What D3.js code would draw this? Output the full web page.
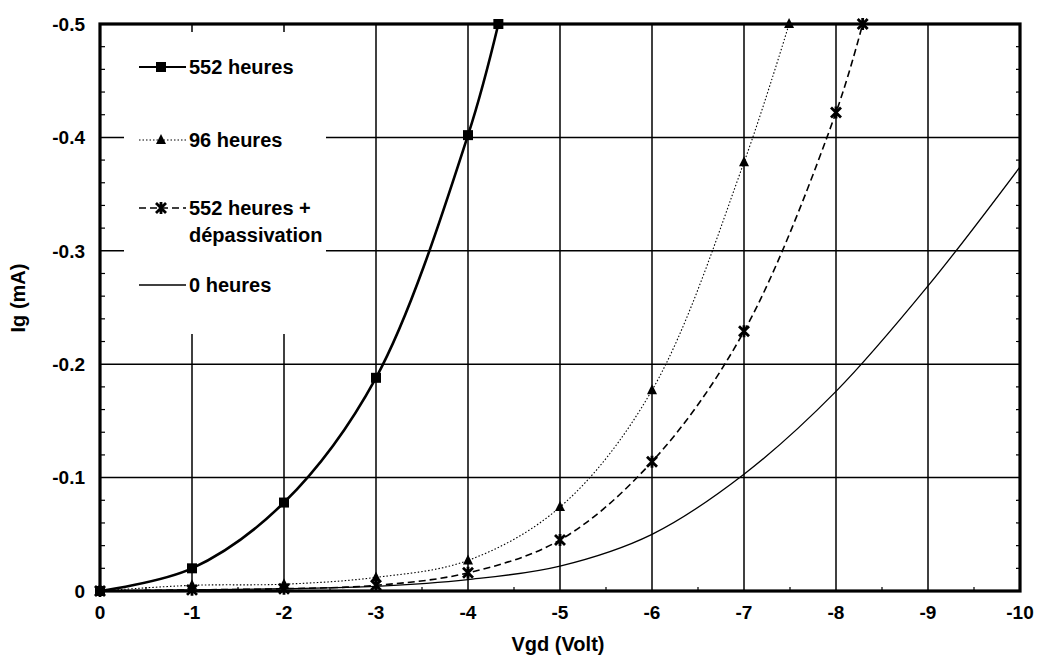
<!DOCTYPE html>
<html><head><meta charset="utf-8">
<script src="https://cdn.jsdelivr.net/npm/d3@7"></script>
<style>
body{margin:0;background:#fff;}
text{font-family:"Liberation Sans",Arial,sans-serif;font-weight:bold;fill:#000;}
</style></head>
<body><svg id="c" width="1041" height="657"></svg>
<script>
// ---- data ----
const xTicks = [0,-1,-2,-3,-4,-5,-6,-7,-8,-9,-10];
const yTicks = [0,-0.1,-0.2,-0.3,-0.4,-0.5];
const yTickLabels = ["0","-0.1","-0.2","-0.3","-0.4","-0.5"];

const vgd552 = [0,-1,-2,-3,-4,-4.33];
const ig552  = [0,-0.020,-0.078,-0.188,-0.402,-0.5];

const vgd96 = [0,-1,-2,-3,-4,-5,-6,-7,-7.49];
const ig96  = [0,-0.005,-0.006,-0.012,-0.027,-0.074,-0.177,-0.378,-0.5];

const vgdDep = [0,-1,-2,-3,-4,-5,-6,-7,-8,-8.29];
const igDep  = [0,-0.001,-0.002,-0.005,-0.016,-0.045,-0.114,-0.229,-0.422,-0.5];

const vgd0 = [0,-1,-2,-3,-4,-5,-6,-7,-8,-9,-10];
const ig0  = [0,-0.001,-0.002,-0.004,-0.010,-0.022,-0.050,-0.103,-0.176,-0.269,-0.374];

const seriesNames = ["552 heures","96 heures","552 heures +|dépassivation","0 heures"];

// ---- layout ----
const svg = d3.select("#c");
const L=100, R=1020, T=24, B=591;
const x = d3.scaleLinear().domain([0,-10]).range([L,R]);
const y = d3.scaleLinear().domain([0,-0.5]).range([B,T]);

const series = [
  {name:seriesNames[0], vx:vgd552, vy:ig552, w:2.6, dash:null, marker:"square"},
  {name:seriesNames[1], vx:vgd96, vy:ig96, w:1.1, dash:"1.5,2", marker:"triangle"},
  {name:seriesNames[2], vx:vgdDep, vy:igDep, w:1.6, dash:"7,4", marker:"star"},
  {name:seriesNames[3], vx:vgd0, vy:ig0, w:1.3, dash:null, marker:null}
];

// grid
const g = svg.append("g");
g.selectAll("line.vg").data(xTicks.slice(1,-1)).join("line")
  .attr("x1",d=>x(d)).attr("x2",d=>x(d)).attr("y1",T).attr("y2",B)
  .attr("stroke","#000").attr("stroke-width",1.5);
g.selectAll("line.hg").data(yTicks.slice(1,-1)).join("line")
  .attr("x1",L).attr("x2",R).attr("y1",d=>y(d)).attr("y2",d=>y(d))
  .attr("stroke","#000").attr("stroke-width",1.5);

// minor ticks
const yMinor = d3.range(1,25).map(i=>-i*0.02).filter(v=>Math.abs((v*10)-Math.round(v*10))>1e-6);
g.selectAll("line.ym").data(yMinor).join("line")
  .attr("x1",L).attr("x2",L+5).attr("y1",d=>y(d)).attr("y2",d=>y(d))
  .attr("stroke","#000").attr("stroke-width",1.2);
g.selectAll("line.ymr").data(yMinor).join("line")
  .attr("x1",R-4).attr("x2",R).attr("y1",d=>y(d)).attr("y2",d=>y(d))
  .attr("stroke","#000").attr("stroke-width",1.2);
const xMinor = d3.range(0,10).map(i=>-(i+0.5));
g.selectAll("line.xm").data(xMinor).join("line")
  .attr("x1",d=>x(d)).attr("x2",d=>x(d)).attr("y1",B).attr("y2",B-4)
  .attr("stroke","#000").attr("stroke-width",1.2);

// legend background
svg.append("rect").attr("x",124).attr("y",32).attr("width",202).attr("height",302).attr("fill","#fff");

// curves
const line = d3.line().x(d=>x(d[0])).y(d=>y(d[1])).curve(d3.curveCatmullRom.alpha(0.5));
series.forEach(s=>{
  const pts = s.vx.map((v,i)=>[v,s.vy[i]]);
  s.pts = pts;
  svg.append("path").attr("d",line(pts)).attr("fill","none")
    .attr("stroke","#000").attr("stroke-width",s.w)
    .attr("stroke-dasharray",s.dash);
});

// frame
svg.append("rect").attr("x",L).attr("y",T).attr("width",R-L).attr("height",B-T)
  .attr("fill","none").attr("stroke","#000").attr("stroke-width",3.2);

// markers
function drawMarker(sel,type,cx,cy){
  if(type==="square"){
    sel.append("rect").attr("x",cx-5).attr("y",cy-5).attr("width",10).attr("height",10).attr("fill","#000");
  } else if(type==="triangle"){
    sel.append("path").attr("d",`M${cx},${cy-6}L${cx+5},${cy+4}L${cx-5},${cy+4}Z`).attr("fill","#000");
  } else if(type==="star"){
    sel.append("path").attr("d",`M${cx-5},${cy-5}L${cx+5},${cy+5}M${cx+5},${cy-5}L${cx-5},${cy+5}M${cx},${cy-6}L${cx},${cy+6}`)
      .attr("stroke","#000").attr("stroke-width",2.8);
  }
}
const mg = svg.append("g");
series.forEach(s=>{
  if(!s.marker) return;
  s.pts.forEach(p=>drawMarker(mg,s.marker,x(p[0]),y(p[1])));
});

// axis labels
svg.selectAll("text.yt").data(yTicks).join("text")
  .attr("x",85).attr("y",d=>y(d)).attr("dy","0.36em").attr("text-anchor","end")
  .attr("font-size",19).text((d,i)=>yTickLabels[i]);
svg.selectAll("text.xt").data(xTicks).join("text")
  .attr("x",d=>x(d)).attr("y",619).attr("text-anchor","middle")
  .attr("font-size",19).text(d=>d===0?"0":String(d));
svg.append("text").attr("x",558).attr("y",651).attr("text-anchor","middle")
  .attr("font-size",20).text("Vgd (Volt)");
svg.append("text").attr("transform","translate(25,298) rotate(-90)").attr("text-anchor","middle")
  .attr("font-size",20).text("Ig (mA)");

// legend
const ly = [67,140,208,285];
const lg = svg.append("g");
series.forEach((s,i)=>{
  const yy = ly[i];
  lg.append("line").attr("x1",139).attr("x2",186).attr("y1",yy).attr("y2",yy)
    .attr("stroke","#000").attr("stroke-width",Math.min(s.w,2)).attr("stroke-dasharray",s.dash);
  if(s.marker) drawMarker(lg,s.marker,161,yy);
  const parts = s.name.split("|");
  parts.forEach((t,j)=>{
    lg.append("text").attr("x",189).attr("y",yy+j*27).attr("dy","0.36em")
      .attr("font-size",20).text(t);
  });
});
</script></body></html>
